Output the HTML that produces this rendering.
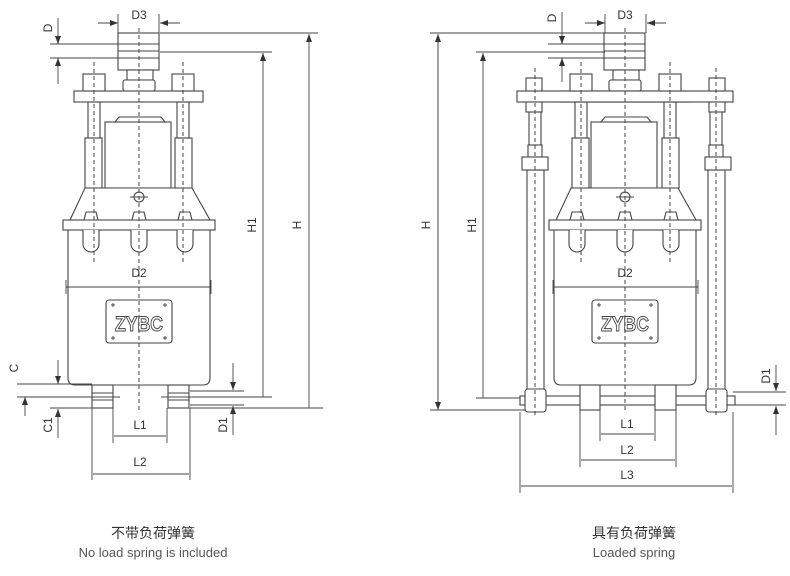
<!DOCTYPE html>
<html><head><meta charset="utf-8"><style>
html,body{margin:0;padding:0;background:#fff;}
svg{display:block;}
text{font-family:"Liberation Sans","Noto Sans CJK SC",sans-serif;fill:#333;}
</style></head><body>
<svg width="790" height="576" viewBox="0 0 790 576" xmlns="http://www.w3.org/2000/svg">
<defs>
<marker id="a" markerWidth="8" markerHeight="6" refX="8" refY="3" orient="auto" markerUnits="userSpaceOnUse"><path d="M0,0 L8,3 L0,6z" fill="#333"/></marker>
<g id="core" fill="#fff" stroke="#444" stroke-width="1.1">
  <rect x="-21" y="33" width="41" height="37"/>
  <line x1="-21" y1="44" x2="20" y2="44"/><line x1="-21" y1="51" x2="20" y2="51"/><line x1="-21" y1="58" x2="20" y2="58"/>
  <rect x="-12" y="70" width="26" height="10"/>
  <rect x="-16" y="80" width="32" height="11" rx="2"/>
  <path d="M-24,122 L-20,117 L22,117 L26,122z"/>
  <rect x="-34" y="122" width="66" height="66"/>
  <path d="M-54,188 L53,188 L71,220 L-69,220z"/>
  <circle cx="0" cy="197" r="5"/>
  <line x1="-9" y1="197" x2="9" y2="197"/>
  <path d="M-71,230 L71,230 L71,378 Q71,385 64,385 L-64,385 Q-71,385 -71,378z"/>
  <rect x="-76" y="220" width="152" height="10"/>
  <path d="M-56,230 L-56,244 A8,8 0 0 0 -40,244 L-40,230"/>
  <path d="M-8,230 L-8,244 A8,8 0 0 0 8,244 L8,230"/>
  <path d="M38,230 L38,244 A8,8 0 0 0 54,244 L54,230"/>
  <path d="M-55,220 L-53,212 L-43,212 L-41,220z"/>
  <path d="M-7,220 L-5,212 L5,212 L7,220z"/>
  <path d="M39,220 L41,212 L51,212 L53,220z"/>
  <rect x="-33" y="300" width="66" height="43" rx="3"/>
  <path d="M-28,305h4m-2,-2v4 M24,305h4m-2,-2v4 M-28,338h4m-2,-2v4 M24,338h4m-2,-2v4" stroke-width="0.9"/>
  <text x="0" y="331" font-size="21" text-anchor="middle" font-weight="bold" transform="translate(0,0)" style="fill:#fff;stroke:#444;stroke-width:1" textLength="48" lengthAdjust="spacingAndGlyphs">ZYBC</text>
  <rect x="-65" y="91" width="129" height="11"/>
</g>
</defs>

<g transform="translate(139,0)">
  <g fill="#fff" stroke="#444" stroke-width="1.1">
    <rect x="-51" y="102" width="12" height="36"/><rect x="-54" y="138" width="17" height="50"/>
    <rect x="38" y="102" width="12" height="36"/><rect x="36" y="138" width="17" height="50"/>
  </g>
  <use href="#core"/>
  <g fill="#fff" stroke="#444" stroke-width="1.1">
    <rect x="-56" y="74" width="22" height="17"/><rect x="33" y="74" width="22" height="17"/>
    <rect x="-47" y="385" width="21" height="23"/><rect x="29" y="385" width="21" height="23"/>
    <line x1="-47" y1="393" x2="-26" y2="393"/><line x1="-47" y1="400" x2="-26" y2="400"/>
    <line x1="29" y1="393" x2="50" y2="393"/><line x1="29" y1="400" x2="50" y2="400"/>
  </g>
  <g stroke="#444" stroke-width="1" stroke-dasharray="4,3">
    <line x1="0" y1="28" x2="0" y2="410"/>
    <line x1="-45" y1="62" x2="-45" y2="262"/><line x1="44" y1="62" x2="44" y2="262"/>
  </g>
</g>
<g stroke="#444" stroke-width="0.9" fill="none">
  <line x1="118" y1="14" x2="118" y2="33"/><line x1="159" y1="14" x2="159" y2="33"/>
  <line x1="98" y1="23" x2="118" y2="23" marker-end="url(#a)"/><line x1="180" y1="23" x2="160" y2="23" marker-end="url(#a)"/>
  <line x1="50" y1="44" x2="118" y2="44"/><line x1="50" y1="58" x2="118" y2="58"/>
  <line x1="58" y1="18" x2="58" y2="44" marker-end="url(#a)"/><line x1="58" y1="84" x2="58" y2="58" marker-end="url(#a)"/>
  <line x1="160" y1="33" x2="318" y2="33"/><line x1="160" y1="52" x2="272" y2="52"/>
  <line x1="309" y1="408" x2="309" y2="34" marker-end="url(#a)"/>
  <line x1="263" y1="397" x2="263" y2="53" marker-end="url(#a)"/>
  <line x1="66" y1="287" x2="211" y2="287"/><line x1="66" y1="280" x2="66" y2="294"/><line x1="211" y1="280" x2="211" y2="294"/>
  <line x1="17" y1="384" x2="92" y2="384"/><line x1="17" y1="397" x2="120" y2="397"/><line x1="50" y1="408" x2="92" y2="408"/>
  <line x1="58" y1="360" x2="58" y2="384" marker-end="url(#a)"/><line x1="25" y1="416" x2="25" y2="397" marker-end="url(#a)"/>
  <line x1="58" y1="438" x2="58" y2="409" marker-end="url(#a)"/>
  <line x1="161" y1="397" x2="272" y2="397"/><line x1="190" y1="391" x2="244" y2="391"/><line x1="190" y1="405" x2="244" y2="405"/>
  <line x1="190" y1="408" x2="323" y2="408"/>
  <line x1="233" y1="363" x2="233" y2="390" marker-end="url(#a)"/><line x1="233" y1="435" x2="233" y2="406" marker-end="url(#a)"/>
  <line x1="113" y1="408" x2="113" y2="443"/><line x1="167" y1="408" x2="167" y2="443"/>
  <line x1="114" y1="436" x2="166" y2="436"/>
  <line x1="92" y1="408" x2="92" y2="480"/><line x1="190" y1="408" x2="190" y2="480"/>
  <line x1="93" y1="474" x2="189" y2="474"/>
</g>
<g font-size="12">
  <text x="139" y="19" text-anchor="middle">D3</text>
  <text x="139" y="277" text-anchor="middle">D2</text>
  <text x="140" y="429" text-anchor="middle">L1</text>
  <text x="140" y="466" text-anchor="middle">L2</text>
  <text transform="translate(52,28) rotate(-90)" text-anchor="middle">D</text>
  <text transform="translate(256,225) rotate(-90)" text-anchor="middle">H1</text>
  <text transform="translate(301,225) rotate(-90)" text-anchor="middle">H</text>
  <text transform="translate(18,368) rotate(-90)" text-anchor="middle">C</text>
  <text transform="translate(52,425) rotate(-90)" text-anchor="middle">C1</text>
  <text transform="translate(227,425) rotate(-90)" text-anchor="middle">D1</text>
</g>

<g transform="translate(625,0)">
  <g fill="#fff" stroke="#444" stroke-width="1.1">
    <rect x="-50" y="102" width="12" height="36"/><rect x="-53" y="138" width="17" height="50"/>
    <rect x="39" y="102" width="12" height="36"/><rect x="37" y="138" width="17" height="50"/>
    <rect x="-96" y="102" width="12" height="45"/><rect x="-98" y="170" width="17" height="222"/>
    <rect x="85" y="102" width="12" height="45"/><rect x="83" y="170" width="17" height="222"/>
    <rect x="-97" y="145" width="14" height="12"/><rect x="-103" y="157" width="26" height="13"/>
    <rect x="84" y="145" width="14" height="12"/><rect x="80" y="157" width="26" height="13"/>
  </g>
  <use href="#core"/>
  <g fill="#fff" stroke="#444" stroke-width="1.1">
    <rect x="-108" y="91" width="216" height="11"/>
    <rect x="-55" y="74" width="22" height="17"/><rect x="34" y="74" width="22" height="17"/>
    <rect x="-99" y="78" width="16" height="13"/><rect x="84" y="78" width="16" height="13"/>
    <rect x="-99" y="102" width="16" height="10"/><rect x="84" y="102" width="16" height="10"/>
    <rect x="-105" y="396" width="215" height="9"/>
    <rect x="-45" y="385" width="20" height="25"/><rect x="30" y="385" width="21" height="25"/>
    <rect x="-100" y="389" width="21" height="23" rx="3"/><rect x="81" y="389" width="21" height="23" rx="3"/>
  </g>
  <g stroke="#444" stroke-width="1" stroke-dasharray="4,3">
    <line x1="0" y1="28" x2="0" y2="410"/>
    <line x1="-44" y1="62" x2="-44" y2="262"/><line x1="45" y1="62" x2="45" y2="262"/>
    <line x1="-90" y1="68" x2="-90" y2="418"/><line x1="91" y1="68" x2="91" y2="418"/>
  </g>
</g>
<g stroke="#444" stroke-width="0.9" fill="none">
  <line x1="605" y1="14" x2="605" y2="33"/><line x1="646" y1="14" x2="646" y2="33"/>
  <line x1="585" y1="23" x2="605" y2="23" marker-end="url(#a)"/><line x1="666" y1="23" x2="647" y2="23" marker-end="url(#a)"/>
  <line x1="548" y1="44" x2="605" y2="44"/><line x1="548" y1="58" x2="605" y2="58"/>
  <line x1="562" y1="12" x2="562" y2="44" marker-end="url(#a)"/><line x1="562" y1="82" x2="562" y2="58" marker-end="url(#a)"/>
  <line x1="430" y1="33" x2="605" y2="33"/><line x1="476" y1="52" x2="605" y2="52"/>
  <line x1="438" y1="400" x2="438" y2="34" marker-end="url(#a)"/><line x1="438" y1="40" x2="438" y2="410" marker-end="url(#a)"/>
  <line x1="483" y1="398" x2="483" y2="53" marker-end="url(#a)"/>
  <line x1="476" y1="398" x2="520" y2="398"/><line x1="430" y1="410" x2="525" y2="410"/>
  <line x1="553" y1="287" x2="698" y2="287"/><line x1="553" y1="280" x2="553" y2="294"/><line x1="698" y1="280" x2="698" y2="294"/>
  <line x1="733" y1="392" x2="786" y2="392"/><line x1="733" y1="405" x2="786" y2="405"/>
  <line x1="776" y1="365" x2="776" y2="391" marker-end="url(#a)"/><line x1="776" y1="435" x2="776" y2="406" marker-end="url(#a)"/>
  <line x1="600" y1="410" x2="600" y2="441"/><line x1="655" y1="410" x2="655" y2="441"/>
  <line x1="601" y1="434" x2="654" y2="434"/>
  <line x1="580" y1="410" x2="580" y2="467"/><line x1="676" y1="410" x2="676" y2="467"/>
  <line x1="581" y1="460" x2="675" y2="460"/>
  <line x1="520" y1="412" x2="520" y2="493"/><line x1="733" y1="412" x2="733" y2="493"/>
  <line x1="521" y1="486" x2="732" y2="486"/>
</g>
<g font-size="12">
  <text x="625" y="19" text-anchor="middle">D3</text>
  <text x="625" y="277" text-anchor="middle">D2</text>
  <text x="627" y="428" text-anchor="middle">L1</text>
  <text x="627" y="454" text-anchor="middle">L2</text>
  <text x="627" y="479" text-anchor="middle">L3</text>
  <text transform="translate(556,18) rotate(-90)" text-anchor="middle">D</text>
  <text transform="translate(430,225) rotate(-90)" text-anchor="middle">H</text>
  <text transform="translate(476,225) rotate(-90)" text-anchor="middle">H1</text>
  <text transform="translate(770,376) rotate(-90)" text-anchor="middle">D1</text>
</g>

<g font-size="14" text-anchor="middle">
  <text x="153" y="538" fill="#222">不带负荷弹簧</text>
  <text x="153" y="557" font-size="13" style="fill:#555">No load spring is included</text>
  <text x="634" y="538" fill="#222">具有负荷弹簧</text>
  <text x="634" y="557" font-size="13" style="fill:#555">Loaded spring</text>
</g>
</svg>
</body></html>
